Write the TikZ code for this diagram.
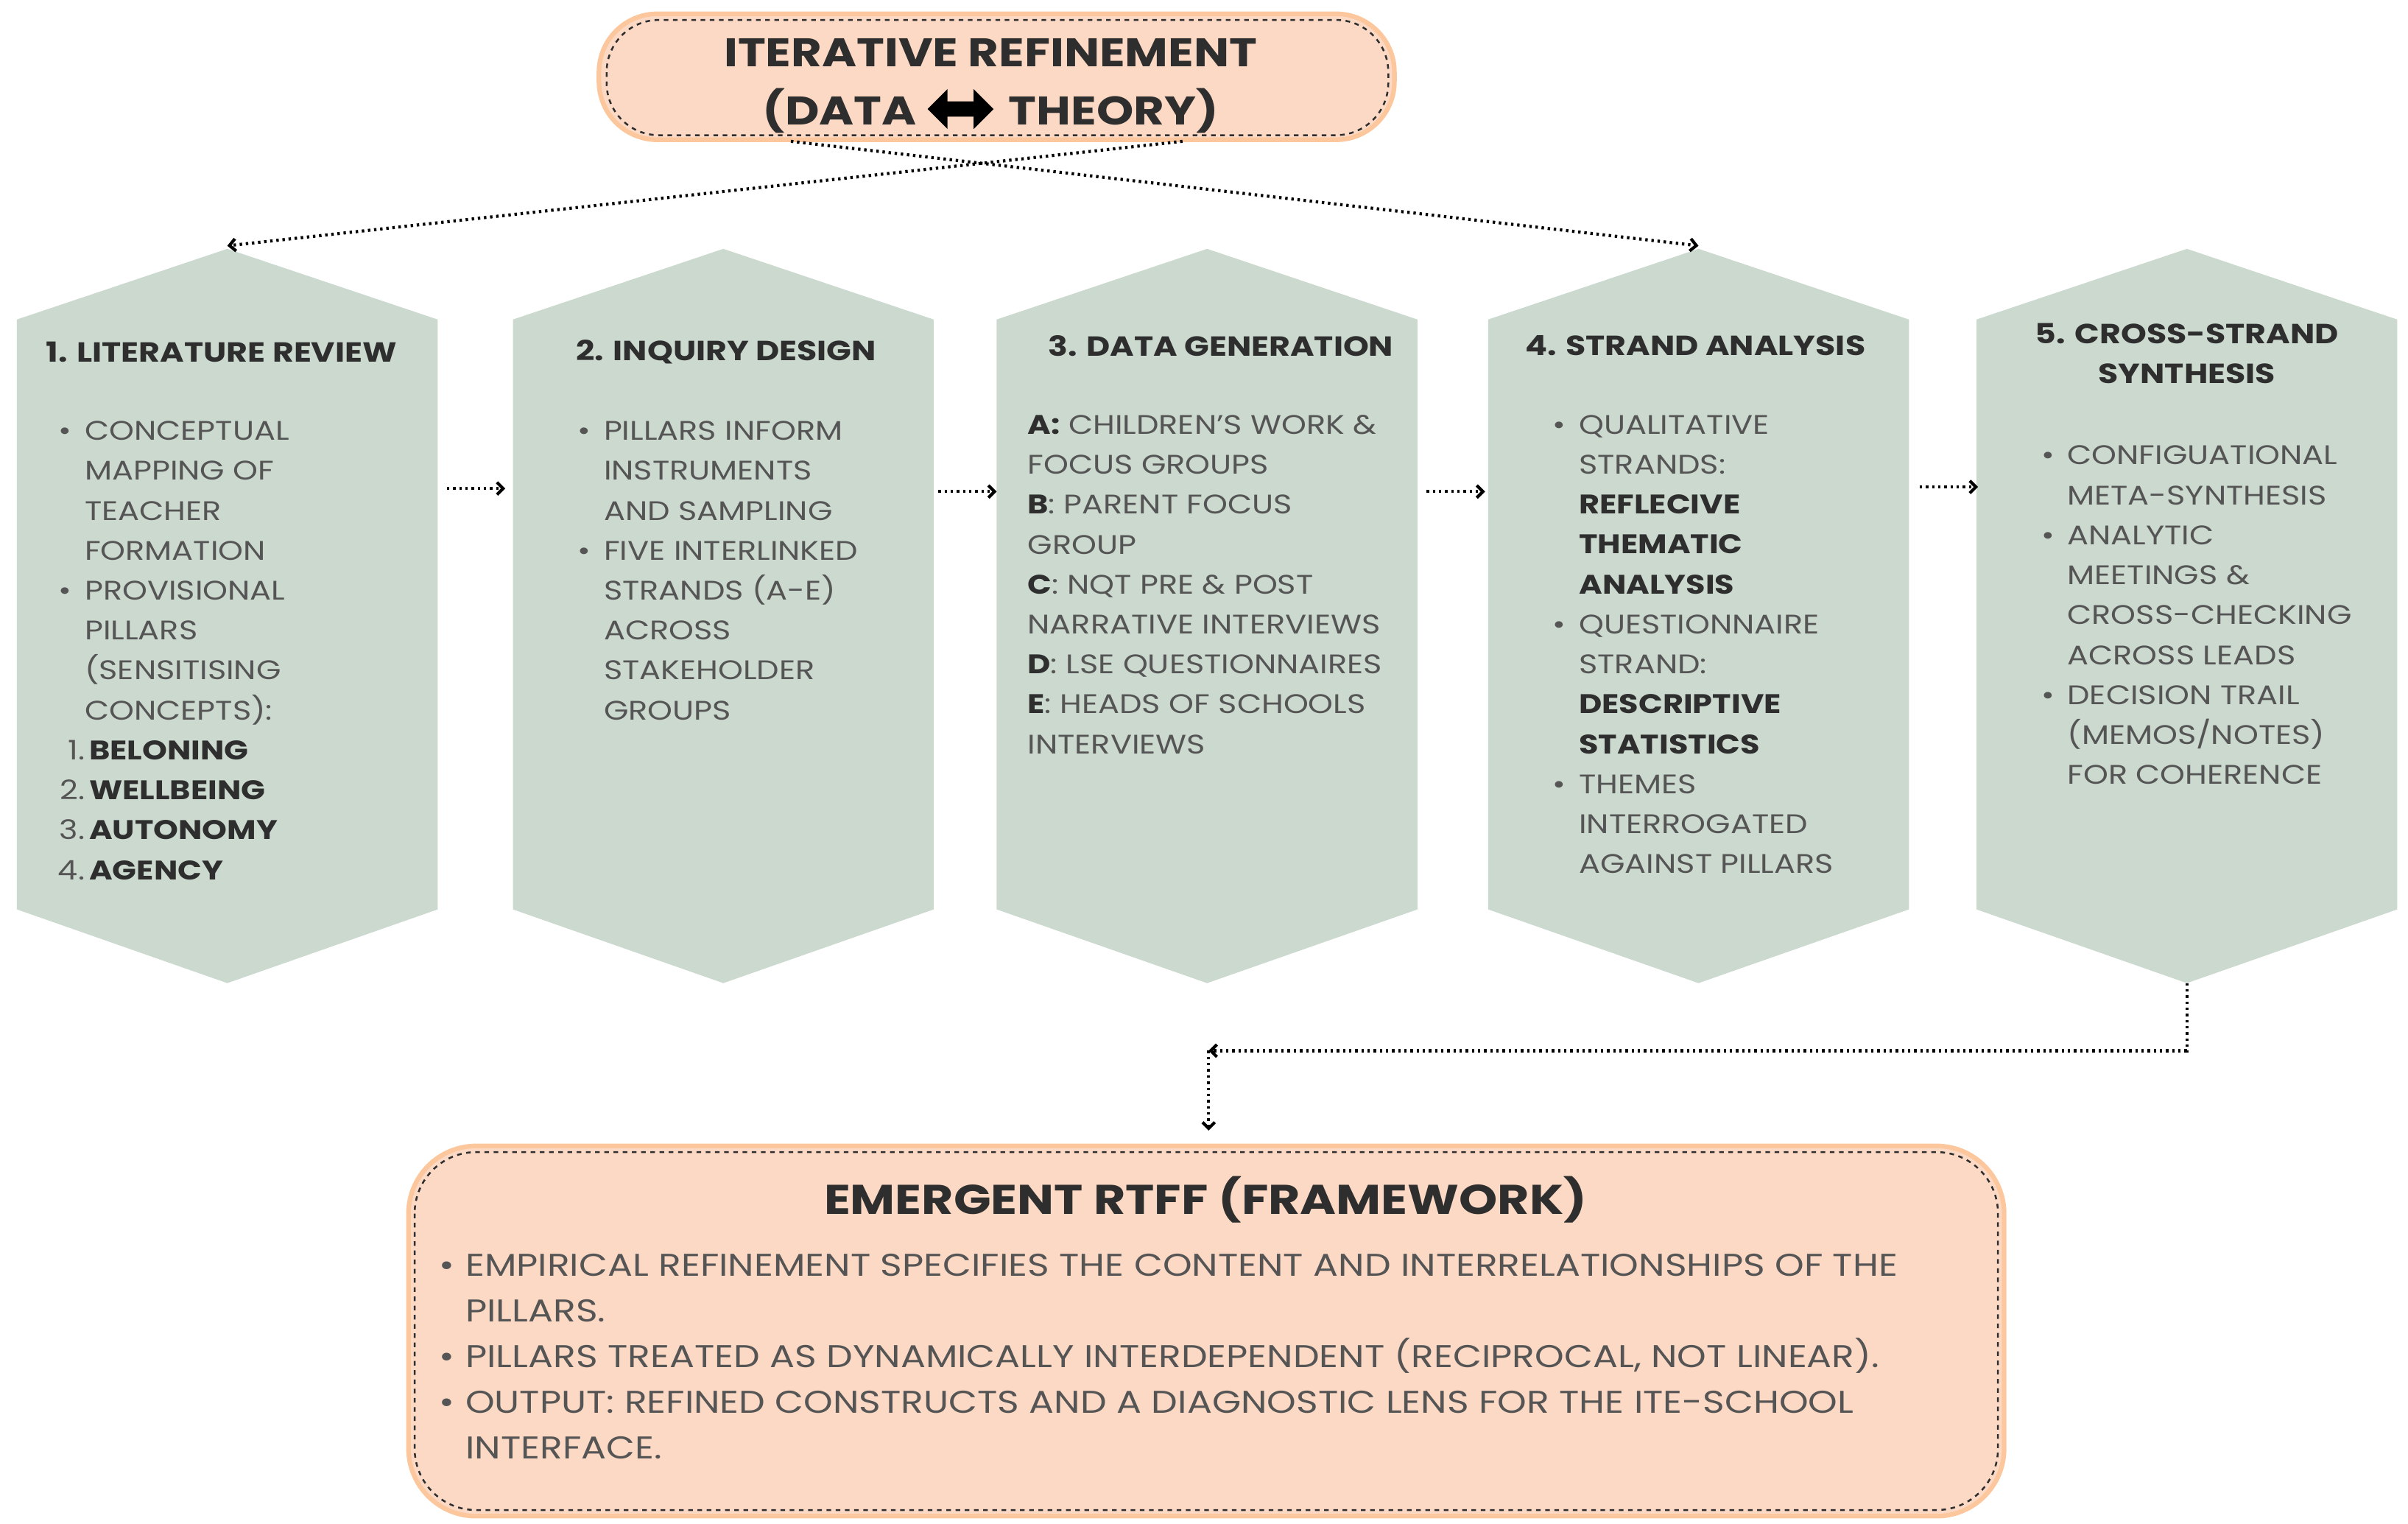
\documentclass[tikz,border=0pt]{standalone}
\usepackage{fontspec}
\setmainfont{Poppins}[FakeStretch=1.18]
\usetikzlibrary{arrows.meta}
\definecolor{sage}{HTML}{CBD9CF}
\definecolor{peach}{HTML}{FCD9C4}
\definecolor{txt}{HTML}{555555}
\definecolor{dark}{HTML}{2E2E2E}
\newcommand{\bul}{\makebox[17pt][l]{\textbullet}}
\newcommand{\ind}{\hspace*{17pt}}
\newcommand{\num}[1]{\makebox[17pt][r]{#1}}
\begin{document}
\begin{tikzpicture}[x=1pt,y=-1pt,
  hex/.style={fill=sage,draw=none},
  ttl/.style={text=dark,font=\fontsize{18}{26}\selectfont\bfseries,inner sep=0,align=center},
  body/.style={text=txt,font=\fontsize{17.5}{26}\selectfont,inner sep=0,align=left,anchor=north west},
  dot/.style={dash pattern=on 1.6pt off 2.4pt,line width=2pt,black,-{Straight Barb[length=4pt,width=8pt]}},
  pbox/.style={fill=peach,draw=dark,dashed,line width=1.2pt,rounded corners=40pt}]
\useasboundingbox (0,0) rectangle (1568,992);
% hexagons
\foreach \c/\n in {148/h1,471/h2,786/h3,1106/h4,1424/h5}{
  \fill[hex] (\c-137,208) -- (\c,162) -- (\c+137,208) -- (\c+137,592) -- (\c,640) -- (\c-137,592) -- cycle;
  \coordinate (\n t) at (\c,160);
  \coordinate (\n b) at (\c,640);
}
% top box
\draw[pbox,rounded corners=38pt,draw=peach!80!orange,line width=3pt,dash pattern=] (390,9) rectangle (908,91);
\draw[pbox,rounded corners=34pt] (395,13) rectangle (904,88);
\node[ttl,font=\fontsize{26}{38}\selectfont\bfseries] (top) at (645,56) {ITERATIVE REFINEMENT\\(DATA\hspace{60pt}THEORY)};
\fill[black] (604,71) -- (617,58) -- (617,66) -- (634,66) -- (634,58) -- (647,71) -- (634,84) -- (634,76) -- (617,76) -- (617,84) -- cycle;
\coordinate (tl) at (515,92);
\coordinate (tr) at (770,92);
\draw[dot] (tr) -- (h1t);
\draw[dot] (tl) -- (h4t);
% titles
\node[ttl,anchor=west] (t1) at (30,229) {1. LITERATURE REVIEW};
\node[ttl,anchor=west] (t2) at (375,229) {2. INQUIRY DESIGN};
\node[ttl] (t3) at (795,225) {3. DATA GENERATION};
\node[ttl] (t4) at (1104,225) {4. STRAND ANALYSIS};
\node[ttl] (t5) at (1424,230) {5. CROSS-STRAND\\SYNTHESIS};
% bodies
\node[body] (b1) at (38,274) {\bul CONCEPTUAL\\\ind MAPPING OF\\\ind TEACHER\\\ind FORMATION\\\bul PROVISIONAL\\\ind PILLARS\\\ind (SENSITISING\\\ind CONCEPTS):\\
\num{1.}\,\textbf{\color{dark}BELONING}\\\num{2.}\,\textbf{\color{dark}WELLBEING}\\\num{3.}\,\textbf{\color{dark}AUTONOMY}\\\num{4.}\,\textbf{\color{dark}AGENCY}};
\node[body] (b2) at (376,274) {\bul PILLARS INFORM\\\ind INSTRUMENTS\\\ind AND SAMPLING\\\bul FIVE INTERLINKED\\\ind STRANDS (A-E)\\\ind ACROSS\\\ind STAKEHOLDER\\\ind GROUPS};
\node[body] (b3) at (669,270) {\textbf{\color{dark}A:} CHILDREN’S WORK \&\\FOCUS GROUPS\\\textbf{\color{dark}B}: PARENT FOCUS\\GROUP\\\textbf{\color{dark}C}: NQT PRE \& POST\\NARRATIVE INTERVIEWS\\\textbf{\color{dark}D}: LSE QUESTIONNAIRES\\\textbf{\color{dark}E}: HEADS OF SCHOOLS\\INTERVIEWS};
\node[body] (b4) at (1011,270) {\bul QUALITATIVE\\\ind STRANDS:\\\ind\textbf{\color{dark}REFLECIVE}\\\ind\textbf{\color{dark}THEMATIC}\\\ind\textbf{\color{dark}ANALYSIS}\\\bul QUESTIONNAIRE\\\ind STRAND:\\\ind\textbf{\color{dark}DESCRIPTIVE}\\\ind\textbf{\color{dark}STATISTICS}\\\bul THEMES\\\ind INTERROGATED\\\ind AGAINST PILLARS};
\node[body] (b5) at (1329,290) {\bul CONFIGUATIONAL\\\ind META-SYNTHESIS\\\bul ANALYTIC\\\ind MEETINGS \&\\\ind CROSS-CHECKING\\\ind ACROSS LEADS\\\bul DECISION TRAIL\\\ind (MEMOS/NOTES)\\\ind FOR COHERENCE};
% horizontal arrows
\coordinate (a1) at (291,318); \coordinate (a1e) at (329,318);
\coordinate (a2) at (611,320); \coordinate (a2e) at (649,320);
\coordinate (a3) at (929,320); \coordinate (a3e) at (967,320);
\coordinate (a4) at (1250,317); \coordinate (a4e) at (1288,317);
\draw[dot] (a1) -- (a1e);
\draw[dot] (a2) -- (a2e);
\draw[dot] (a3) -- (a3e);
\draw[dot] (a4) -- (a4e);
% bottom box
\draw[pbox,draw=peach!80!orange,line width=3pt,dash pattern=,rounded corners=44pt] (266,746) rectangle (1305,987);
\draw[pbox] (270,750) rectangle (1301,983);
\node[ttl,font=\fontsize{27}{36}\selectfont\bfseries] (bt) at (785,781) {EMERGENT RTFF (FRAMEWORK)};
\node[body,font=\fontsize{20.5}{29.8}\selectfont] (bb) at (286,816) {\makebox[17pt][l]{\textbullet}EMPIRICAL REFINEMENT SPECIFIES THE CONTENT AND INTERRELATIONSHIPS OF THE\\\ind PILLARS.\\\makebox[17pt][l]{\textbullet}PILLARS TREATED AS DYNAMICALLY INTERDEPENDENT (RECIPROCAL, NOT LINEAR).\\\makebox[17pt][l]{\textbullet}OUTPUT: REFINED CONSTRUCTS AND A DIAGNOSTIC LENS FOR THE ITE-SCHOOL\\\ind INTERFACE.};
% connector to bottom
\coordinate (m) at (787,684);
\coordinate (me) at (787,736);
\draw[dot] (h5b) |- (m);
\draw[dot] (m) -- (me);
\end{tikzpicture}
\end{document}
